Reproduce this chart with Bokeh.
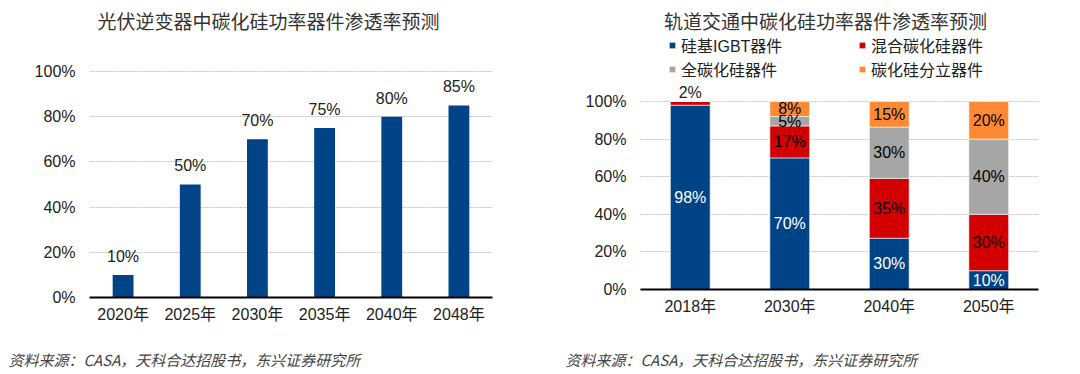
from bokeh.plotting import figure
from bokeh.layouts import row, column
from bokeh.models import (FixedTicker, PrintfTickFormatter, Label, Legend, LegendItem,
                          ColumnDataSource, Range1d, Title)
from bokeh.core.properties import value
from bokeh.embed import file_html
from bokeh.resources import INLINE

# ---------------- data ----------------
pv_title = "光伏逆变器中碳化硅功率器件渗透率预测"
pv_years = ["2020年", "2025年", "2030年", "2035年", "2040年", "2048年"]
pv_share = [10, 50, 70, 75, 80, 85]

rail_title = "轨道交通中碳化硅功率器件渗透率预测"
rail_years = ["2018年", "2030年", "2040年", "2050年"]
igbt = [98, 70, 30, 10]
hybrid = [2, 17, 35, 30]
full_sic = [0, 5, 30, 40]
discrete = [0, 8, 15, 20]
series_names = ["硅基IGBT器件", "混合碳化硅器件", "全碳化硅器件", "碳化硅分立器件"]

y_ticks = [0, 20, 40, 60, 80, 100]
source_text = "资料来源：CASA，天科合达招股书，东兴证券研究所"

# ---------------- styles ----------------
FONT = "'Liberation Sans', 'Noto Sans CJK SC', sans-serif"
CJK = "'Noto Sans CJK SC', sans-serif"
BLUE = "#004487"
RED = "#D20000"
GRAY = "#A6A6A6"
ORANGE = "#FF8A33"
series_colors = [BLUE, RED, GRAY, ORANGE]
label_colors = ["white", "black", "black", "black"]
TXT = "#222222"
CHART_H = 344
SRC_H = 30


def style(p):
    p.outline_line_color = None
    p.toolbar.logo = None
    p.xgrid.grid_line_color = None
    p.ygrid.grid_line_color = "#C4C4C4"
    p.ygrid.grid_line_dash = "2 1"
    p.ygrid.grid_line_width = 1
    p.yaxis.ticker = FixedTicker(ticks=y_ticks)
    p.yaxis.formatter = PrintfTickFormatter(format="%d%%")
    p.yaxis.axis_line_color = None
    p.yaxis.major_tick_line_color = None
    p.yaxis.minor_tick_line_color = None
    p.yaxis.major_tick_out = 0
    p.yaxis.major_label_standoff = 14
    p.xaxis.axis_line_color = "black"
    p.xaxis.axis_line_width = 2
    p.xaxis.major_tick_line_color = None
    p.xaxis.major_tick_out = 0
    p.xaxis.major_label_standoff = 8
    for ax in (p.xaxis, p.yaxis):
        ax.major_label_text_font = FONT
        ax.major_label_text_font_size = "16px"
        ax.major_label_text_color = TXT
    p.x_range.range_padding = 0
    return p


def source_fig(offset):
    f = figure(width=540, height=SRC_H, x_range=Range1d(0, 1), y_range=Range1d(0, 1),
               output_backend="svg", toolbar_location=None, min_border=0,
               min_border_top=26, min_border_bottom=0)
    f.axis.visible = False
    f.grid.visible = False
    f.outline_line_color = None
    f.add_layout(Title(text=source_text, align="left", offset=offset, standoff=0,
                       vertical_align="middle", text_font=CJK, text_font_size="15px",
                       text_font_style="italic", text_color="#444444"), "above")
    return f


# ---------------- left chart ----------------
left = figure(width=540, height=CHART_H, x_range=pv_years, y_range=Range1d(0, 131.4),
              output_backend="svg", toolbar_location=None,
              min_border_left=89, min_border_right=48, min_border_top=0, min_border_bottom=47)
left = style(left)
ls = ColumnDataSource(dict(x=pv_years, top=pv_share, lab=[f"{v}%" for v in pv_share]))
left.vbar(x="x", top="top", width=0.31, source=ls, fill_color=BLUE, line_color=None)
left.text(x="x", y="top", text="lab", source=ls, text_align="center", text_baseline="bottom",
          y_offset=-10, text_font=value(FONT), text_font_size="16px", text_color=TXT)
left.add_layout(Label(x=2.665, y=122.6, text=pv_title, text_align="center",
                      text_baseline="middle", text_font=CJK, text_font_size="19px",
                      text_color="#333333"))

# ---------------- right chart ----------------
right = figure(width=540, height=CHART_H, x_range=rail_years, y_range=Range1d(0, 153.7),
               output_backend="svg", toolbar_location=None,
               min_border_left=100, min_border_right=42, min_border_top=0, min_border_bottom=55)
right = style(right)

raw = [igbt, hybrid, full_sic, discrete]
totals = [sum(v[i] for v in raw) for i in range(len(rail_years))]
keys = ["s0", "s1", "s2", "s3"]
data = {"x": rail_years}
for k, v in zip(keys, raw):
    data[k] = [v[i] / totals[i] * 100 for i in range(len(rail_years))]
rs = ColumnDataSource(data)
rends = right.vbar_stack(keys, x="x", width=0.4, source=rs, fill_color=series_colors,
                         line_color="white", line_width=0.6)

# segment labels
lx, ly, lt, lc = [], [], [], []
ax_, ay_, at_ = [], [], []
for i, yr in enumerate(rail_years):
    bottom = 0.0
    for j, k in enumerate(keys):
        share = data[k][i]
        if raw[j][i] > 0:
            if share < 3:
                ax_.append(yr); ay_.append(bottom + share); at_.append(f"{raw[j][i]}%")
            else:
                lx.append(yr); ly.append(bottom + share / 2); lt.append(f"{raw[j][i]}%")
                lc.append(label_colors[j])
        bottom += share
seg = ColumnDataSource(dict(x=lx, y=ly, t=lt, c=lc))
right.text(x="x", y="y", text="t", text_color="c", source=seg, text_align="center",
           text_baseline="middle", text_font=value(FONT), text_font_size="16px")
above = ColumnDataSource(dict(x=ax_, y=ay_, t=at_))
right.text(x="x", y="y", text="t", source=above, text_align="center", text_baseline="bottom",
           y_offset=0, text_font=value(FONT), text_font_size="16px", text_color=TXT)

right.add_layout(Label(x=1.859, y=143.1, text=rail_title, text_align="center",
                       text_baseline="middle", text_font=CJK, text_font_size="19px",
                       text_color="#333333"))


def make_legend(items, loc):
    return Legend(items=items, location=loc, orientation="vertical", glyph_width=8,
                  glyph_height=8, label_standoff=5, spacing=0, label_height=20,
                  padding=0, margin=0, border_line_color=None, background_fill_alpha=0,
                  label_text_font=FONT, label_text_font_size="16px", label_text_color=TXT)


leg1 = make_legend([LegendItem(label=series_names[0], renderers=[rends[0]]),
                    LegendItem(label=series_names[2], renderers=[rends[2]])], (28, 208))
leg2 = make_legend([LegendItem(label=series_names[1], renderers=[rends[1]]),
                    LegendItem(label=series_names[3], renderers=[rends[3]])], (218, 208))
right.add_layout(leg1)
right.add_layout(leg2)

layout = row(column(left, source_fig(-81)), column(right, source_fig(-75)))
open("out.html", "w").write(file_html(layout, INLINE))
